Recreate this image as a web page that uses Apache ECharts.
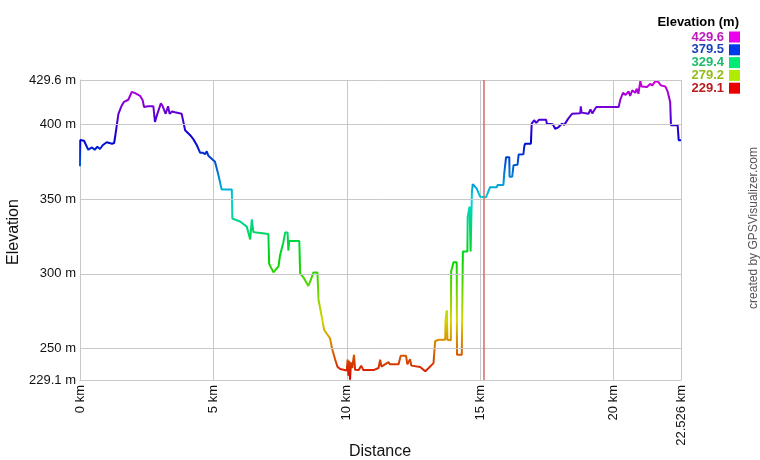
<!DOCTYPE html>
<html><head><meta charset="utf-8">
<script src="https://cdn.jsdelivr.net/npm/echarts@6/dist/echarts.min.js"></script>
<style>html,body{margin:0;padding:0;background:#fff}#c{width:760px;height:460px}</style>
</head><body><div id="c"></div>
<script>
const distanceKm = [0.00,0.01,0.15,0.31,0.45,0.55,0.65,0.75,0.85,1.00,1.20,1.28,1.32,1.44,1.55,1.65,1.81,1.94,2.05,2.25,2.35,2.40,2.55,2.75,2.81,2.87,2.90,3.03,3.10,3.21,3.30,3.36,3.45,3.56,3.81,3.94,4.13,4.25,4.38,4.50,4.60,4.69,4.75,4.81,5.06,5.19,5.31,5.69,5.71,6.00,6.25,6.38,6.44,6.50,6.62,7.06,7.09,7.25,7.44,7.50,7.62,7.69,7.78,7.81,7.84,8.22,8.25,8.40,8.56,8.65,8.75,8.90,8.94,9.06,9.15,9.25,9.37,9.45,9.56,9.65,9.75,10.00,10.03,10.06,10.09,10.12,10.16,10.20,10.27,10.31,10.44,10.54,10.62,11.00,11.19,11.25,11.30,11.56,11.62,11.94,12.02,12.22,12.27,12.37,12.42,12.75,12.94,13.06,13.25,13.31,13.44,13.69,13.70,13.75,13.77,13.90,13.91,14.00,14.12,14.13,14.31,14.33,14.35,14.52,14.53,14.60,14.62,14.64,14.68,14.69,14.72,14.87,15.00,15.22,15.37,15.62,15.65,15.87,15.90,15.97,16.09,16.10,16.20,16.25,16.40,16.44,16.62,16.65,16.68,16.90,16.93,17.02,17.10,17.20,17.47,17.50,17.72,17.81,17.93,18.06,18.15,18.30,18.44,18.75,18.77,18.80,19.06,19.13,19.20,19.35,20.19,20.25,20.35,20.45,20.56,20.62,20.70,20.81,20.87,20.93,21.00,21.05,21.25,21.37,21.45,21.56,21.68,21.77,21.94,22.03,22.12,22.15,22.40,22.44,22.526];
const elevationM = [372,389.5,389,383,384.5,383,385,383.5,386,388,387,387.5,392,407,412,415,416.4,421.6,421,419,416,411.6,412,412,401.6,402,407,414,412,407,412,407,408.5,408,407,396,392.7,390,386,381,381,380,382,379,375,366,356.4,356.4,337,335,331.6,323,336.5,328,327.6,326.7,306.7,301,305,312.7,321,327.6,327.6,315.6,322,322,300.4,297,292,296,301,301,282.7,271.5,262.7,260,257,250,243,238,236.4,235.5,242.7,232,242,229.3,241,237,246,236,235.7,238.7,235.7,235.7,237.1,242.7,238,241,239.6,239.6,245.3,245.3,239.6,243,238.7,237.8,235,237,240.4,255,256,256,269,275.6,256,255.6,301.6,307.8,307.8,246,246,280.7,315,315,338,345,345,315,315,355,360,357,351.5,351.3,358,358,359.4,359.4,367,378,378,365,365,372.7,373,379.8,380,385,387,387,400.4,402.7,401,403,403,400.4,400,397,398,400.4,399.6,403.8,407,407.3,412,407.8,407,410,407.3,411.6,411.6,416.4,421,419.6,422,419,422.7,421,423.8,420.4,428.9,425.3,424.9,427,426,428.7,428.2,426,425.3,421.6,414.9,399.3,399.3,389.3,389.3];
const yTicks = [229.1,250,300,350,400,429.6];
const markerKm = [15.12];
const legendValues = ['429.6','379.5','329.4','279.2','229.1'];
const elevMin = 229.1, elevMax = 429.6;

const FONT = '"Liberation Sans", Arial, sans-serif';
function hsl(h,s,l){s/=100;l/=100;const k=n=>(n+h/30)%12;const a=s*Math.min(l,1-l);const f=n=>l-a*Math.max(-1,Math.min(k(n)-3,9-k(n),1));return '#'+[f(0),f(8),f(4)].map(x=>Math.round(x*255).toString(16).padStart(2,'0')).join('');}
const hueOf = v => (v-elevMin)/(elevMax-elevMin)*300;
const rampColors = [];
for (let h=0; h<=300; h+=20) rampColors.push(hsl(h,100,42));

const lineData = distanceKm.map((d,i)=>[d, elevationM[i]]);

const graphics = [
  {type:'text', x:14, y:232, rotation:Math.PI/2, style:{text:'Elevation', font:'16px '+FONT, fill:'#111', align:'center', verticalAlign:'middle'}},
  {type:'text', x:380, y:452, style:{text:'Distance', font:'16px '+FONT, fill:'#111', align:'center', verticalAlign:'middle'}},
  {type:'text', x:754, y:228, rotation:Math.PI/2, style:{text:'created by GPSVisualizer.com', font:'12px '+FONT, fill:'#555', align:'center', verticalAlign:'middle'}},
  {type:'text', x:739, y:22, style:{text:'Elevation (m)', font:'bold 13px '+FONT, fill:'#000', align:'right', verticalAlign:'middle'}}
];
legendValues.forEach((v,i)=>{
  const yy = 37 + i*12.8;
  const h = hueOf(parseFloat(v));
  graphics.push({type:'text', x:724, y:yy, style:{text:v, font:'bold 13px '+FONT, fill:hsl(h,75,42), align:'right', verticalAlign:'middle'}});
  graphics.push({type:'rect', shape:{x:729, y:yy-5.5, width:11, height:11}, style:{fill:hsl(h,100,46)}});
});

const chart = echarts.init(document.getElementById('c'), null, {renderer:'canvas'});
chart.setOption({
  animation:false,
  backgroundColor:'#fff',
  grid:{left:80, right:79, top:80, bottom:80},
  xAxis:{type:'value', min:0, max:22.526, interval:5,
    axisLine:{show:true, lineStyle:{color:'#c8c8c8'}}, axisTick:{show:false},
    splitLine:{show:true, lineStyle:{color:'#c8c8c8'}},
    axisLabel:{rotate:90, formatter:v=>v+' km', color:'#111', fontSize:13, fontFamily:FONT, margin:5, showMaxLabel:true}},
  yAxis:{type:'value', min:elevMin, max:elevMax,
    axisLine:{show:true, lineStyle:{color:'#c8c8c8'}}, axisTick:{show:false},
    splitLine:{show:false}, axisLabel:{show:false}},
  visualMap:{type:'continuous', show:false, dimension:1, seriesIndex:1, min:elevMin, max:elevMax, inRange:{color:rampColors}},
  series:[
    {type:'line', data:[], z:1, silent:true,
      markLine:{silent:true, symbol:['none','none'], animation:false,
        lineStyle:{color:'#c8c8c8', width:1, type:'solid'},
        label:{position:'start', formatter:p=>p.value+' m', color:'#111', fontSize:13, fontFamily:FONT, distance:4},
        data:yTicks.map(v=>({yAxis:v}))}},
    {type:'line', data:lineData, showSymbol:false, z:3, lineStyle:{width:2}},
    {type:'line', data:[], z:4, silent:true,
      markLine:{silent:true, symbol:['none','none'], animation:false,
        lineStyle:{color:'#d46a6a', width:1.5, type:'solid'}, label:{show:false},
        data:markerKm.map(v=>({xAxis:v}))}}
  ],
  graphic:graphics
});
</script></body></html>
